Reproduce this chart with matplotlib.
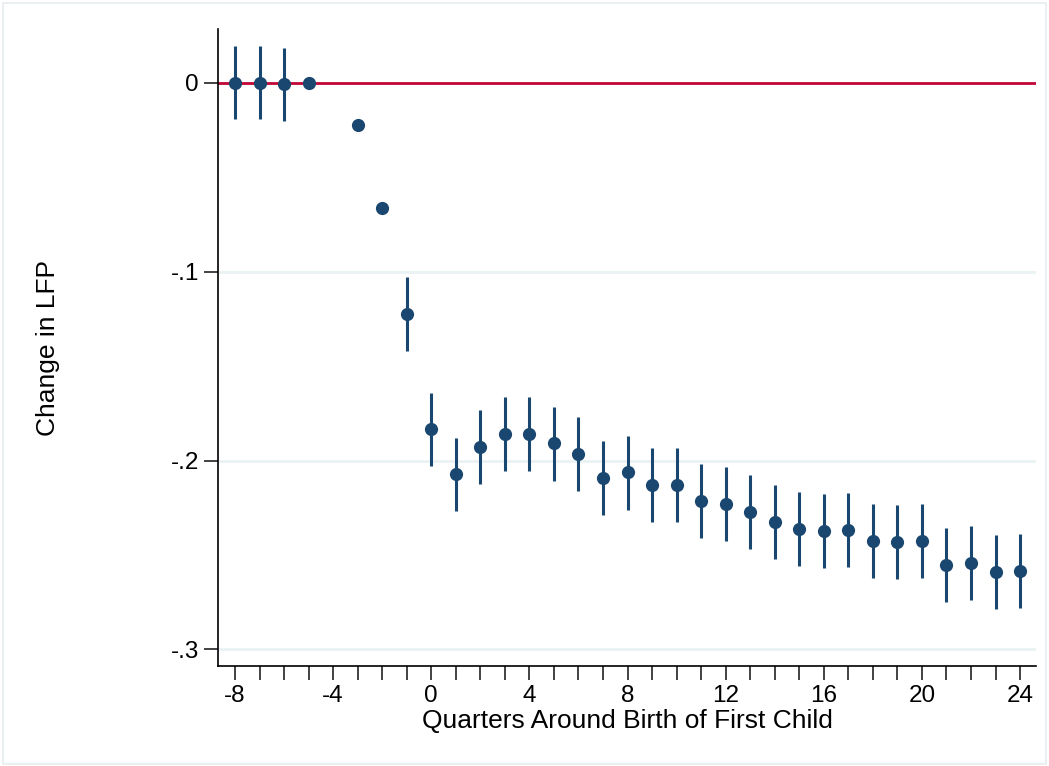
import numpy as np
import matplotlib
matplotlib.use("Agg")
from matplotlib import pyplot as plt
from matplotlib.patches import Rectangle

# event-study estimates
quarters = [-8, -7, -6, -5, -3, -2, -1, 0, 1, 2, 3, 4, 5, 6, 7, 8, 9, 10, 11, 12,
            13, 14, 15, 16, 17, 18, 19, 20, 21, 22, 23, 24]
coef = [0.0, 0.0, -0.0007, 0.0, -0.0224, -0.0662, -0.1224, -0.1834, -0.2073, -0.1926,
        -0.1859, -0.1861, -0.1908, -0.1965, -0.2091, -0.2062, -0.2129, -0.2129, -0.2214,
        -0.2230, -0.2272, -0.2324, -0.2362, -0.2371, -0.2368, -0.2426, -0.2433, -0.2427,
        -0.2554, -0.2541, -0.2588, -0.2585]
ci_hi = [0.0196, 0.0196, 0.0187, 0.0, -0.0224, -0.0662, -0.1026, -0.1640, -0.1879, -0.1732,
         -0.1661, -0.1665, -0.1714, -0.1769, -0.1896, -0.1868, -0.1933, -0.1933, -0.2018,
         -0.2034, -0.2078, -0.2129, -0.2168, -0.2175, -0.2173, -0.2230, -0.2237, -0.2232,
         -0.2359, -0.2346, -0.2394, -0.2389]
ci_lo = [-0.0192, -0.0192, -0.0203, 0.0, -0.0224, -0.0662, -0.1419, -0.2029, -0.2267, -0.2124,
         -0.2053, -0.2057, -0.2107, -0.2161, -0.2286, -0.2260, -0.2324, -0.2324, -0.2408,
         -0.2426, -0.2468, -0.2520, -0.2560, -0.2567, -0.2564, -0.2620, -0.2629, -0.2623,
         -0.2750, -0.2739, -0.2785, -0.2781]

y_ticks = [0, -0.1, -0.2, -0.3]
y_ticklabels = ["0", "-.1", "-.2", "-.3"]
x_labeled = [-8, -4, 0, 4, 8, 12, 16, 20, 24]
x_ticklabels = ["-8", "-4", "0", "4", "8", "12", "16", "20", "24"]

navy = "#1a476f"
red = "#c10534"

plt.rcParams['font.family'] = ['Liberation Sans', 'DejaVu Sans']
plt.rcParams['axes.unicode_minus'] = False

fig = plt.figure(figsize=(10.49, 7.66), dpi=100)
fig.patches.append(Rectangle((0.0025, 0.0025), 0.995, 0.994, transform=fig.transFigure,
                             fill=False, edgecolor="#e6eef0", linewidth=1.2))
ax = fig.add_axes([0.2081, 0.1305, 0.7795, 0.8312])

x = np.array(quarters)
y = np.array(coef)
ax.vlines(x, ci_lo, ci_hi, color=navy, linewidth=2.2, zorder=3)
ax.axhline(0, color=red, linewidth=2, zorder=2)
ax.plot(x, y, 'o', color=navy, markersize=9.5, markeredgewidth=0, zorder=4)

ax.set_xlim(-8.68, 24.65)
ax.set_ylim(-0.3088, 0.0284)

for yy in y_ticks[1:]:
    ax.axhline(yy, color="#eaf2f3", linewidth=2, zorder=1)

ax.set_yticks(y_ticks)
ax.set_yticklabels(y_ticklabels)
ax.set_xticks(x_labeled)
ax.set_xticklabels(x_ticklabels)
ax.set_xticks(np.arange(-8, 25), minor=True)
ax.tick_params(axis='both', which='both', length=10, width=1.2, color="#222222",
               labelsize=17.5, pad=4)

for s in ["top", "right"]:
    ax.spines[s].set_visible(False)
for s in ["left", "bottom"]:
    ax.spines[s].set_linewidth(1.2)
    ax.spines[s].set_color("black")

ax.set_xlabel("Quarters Around Birth of First Child", fontsize=19, labelpad=1)
ax.set_ylabel("Change in LFP", fontsize=19, va="center")
ax.yaxis.set_label_coords(-0.2083, 0.5)

fig.savefig("out.png", dpi=100)
